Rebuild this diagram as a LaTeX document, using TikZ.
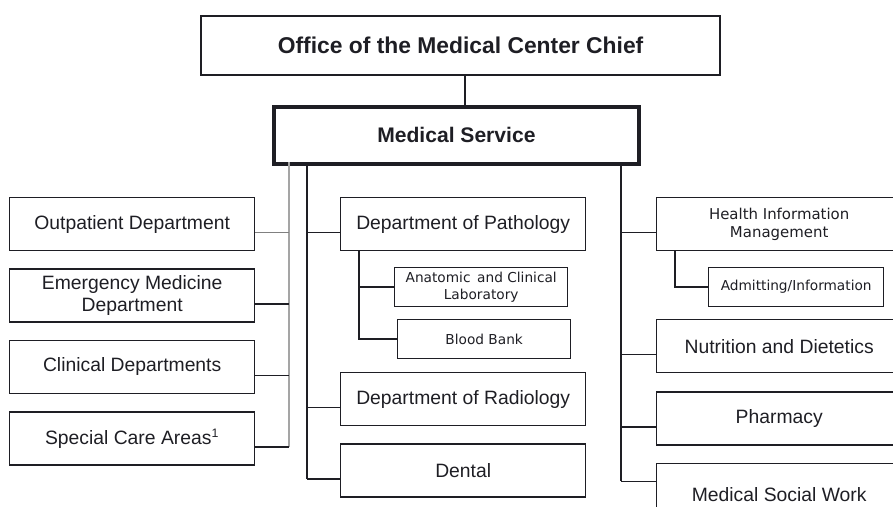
\documentclass[tikz,border=0pt]{standalone}
\usepackage{fontspec}
\setmainfont{Liberation Sans}
\newfontfamily\smallfont{DejaVu Sans}
\usepackage{tikz}
\usetikzlibrary{positioning}
\definecolor{inkblack}{RGB}{30,30,36}
\definecolor{linegray}{RGB}{165,165,165}

\begin{document}
\begin{tikzpicture}[
    x=0.02cm, y=-0.02cm,
    box/.style={rectangle, draw=inkblack, line width=0.8pt, text=inkblack,
                minimum width=4.9cm, minimum height=1.06cm, anchor=north west,
                align=center, inner sep=2pt, font=\fontsize{11}{12.5}\selectfont},
    subbox/.style={box, minimum width=3.46cm, minimum height=0.78cm,
                font=\smallfont\fontsize{7.8}{10}\selectfont},
    link/.style={draw=inkblack, line width=0.8pt}
]
    \useasboundingbox (0,0) rectangle (893,507);
    \clip (0,0) rectangle (893,507);

    % Head office and service
    \node[box, line width=1.3pt, minimum width=10.38cm, minimum height=1.18cm,
          font=\bfseries\fontsize{13}{15}\selectfont] (chief) at (200,15) {Office of the Medical Center Chief};
    \node[box, line width=2.2pt, minimum width=7.3cm, minimum height=1.14cm,
          font=\bfseries\fontsize{12}{14}\selectfont] (medical) at (272,105) {Medical Service};

    % Left column
    \node[box] (outpatient) at (9,197) {Outpatient Department};
    \node[box, below=0.34cm of outpatient] (emergency) {Emergency Medicine\\Department};
    \node[box, below=0.34cm of emergency] (clinical) {Clinical Departments};
    \node[box, below=0.34cm of clinical] (special) {Special Care Areas\textsuperscript{\scriptsize 1}};

    % Middle column
    \node[box] (pathology) at (340,197) {Department of Pathology};
    \node[subbox] (anatomic) at (394,267) {Anatomic\, and Clinical\\Laboratory};
    \node[subbox] (blood) at (397,319) {Blood Bank};
    \node[box] (radiology) at (340,372) {Department of Radiology};
    \node[box, below=0.34cm of radiology] (dental) {Dental};

    % Right column
    \node[box, font=\smallfont\fontsize{8.5}{10.2}\selectfont] (him) at (656,197) {Health Information\\Management};
    \node[subbox, minimum width=3.5cm] (admitting) at (708,267) {Admitting/Information};
    \node[box] (nutrition) at (656,319) {Nutrition and Dietetics};
    \node[box, below=0.36cm of nutrition] (pharmacy) {Pharmacy};
    \node[box, below=0.34cm of pharmacy, minimum height=1.24cm] (msw) {Medical Social Work};

    % Lines
    \draw[link, line width=1.3pt] ([xshift=0.09cm]chief.south) -- ([xshift=0.09cm]chief.south |- medical.north);

    \coordinate (lbus) at (289,162);
    \coordinate (mbus) at (307,162);
    \coordinate (rbus) at (621,162);

    \draw[link, draw=linegray, line width=1.2pt] (lbus) -- ([yshift=-0.17cm]special.east -| lbus);
    \draw[link, draw=gray] ([yshift=-0.17cm]outpatient.east) -- ([yshift=-0.17cm]outpatient.east -| lbus);
    \foreach \n in {emergency, clinical, special}
        \draw[link] ([yshift=-0.17cm]\n.east) -- ([yshift=-0.17cm]\n.east -| lbus);

    \draw[link] (mbus) -- ([yshift=-0.17cm]dental.west -| mbus);
    \foreach \n in {pathology, radiology, dental}
        \draw[link] ([yshift=-0.17cm]\n.west -| mbus) -- ([yshift=-0.17cm]\n.west);
    \draw[link] ([xshift=0.38cm]pathology.south west) |- (blood.west);
    \draw[link] ([xshift=0.38cm]pathology.south west |- anatomic.west) -- (anatomic.west);

    \draw[link] (rbus) -- ([yshift=0.26cm]msw.west -| rbus);
    \foreach \n in {him, nutrition, pharmacy}
        \draw[link] ([yshift=-0.17cm]\n.west -| rbus) -- ([yshift=-0.17cm]\n.west);
    \draw[link] ([yshift=0.26cm]msw.west -| rbus) -- ([yshift=0.26cm]msw.west);
    \draw[link] ([xshift=0.38cm]him.south west) |- (admitting.west);

\end{tikzpicture}
\end{document}
